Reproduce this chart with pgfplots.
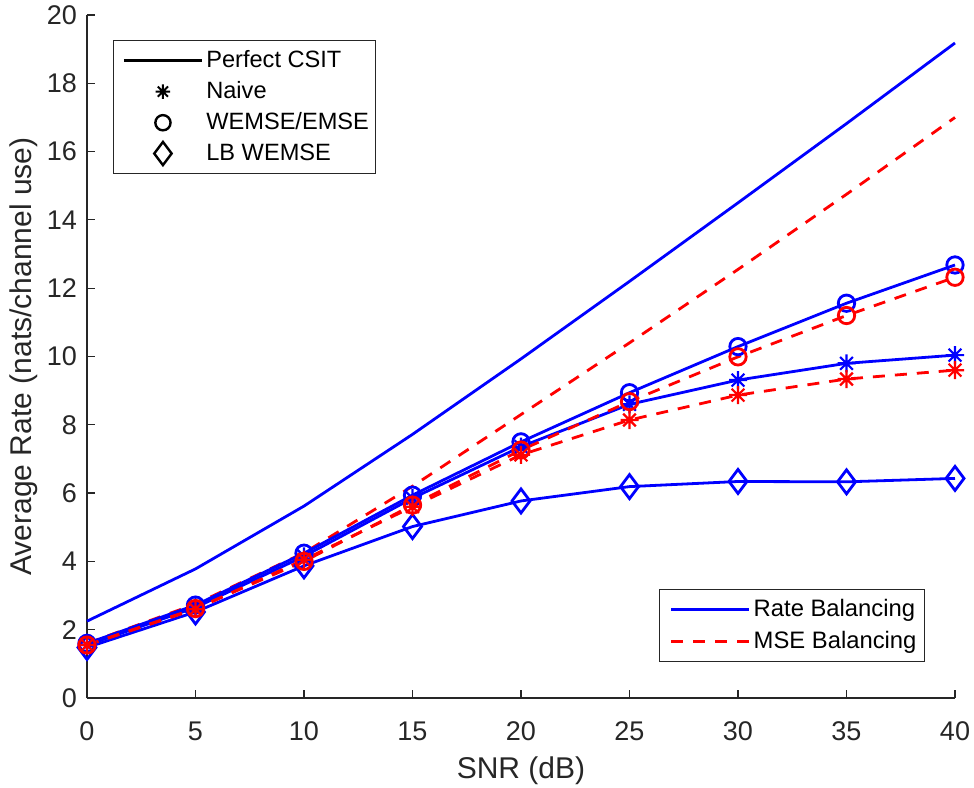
\documentclass[border=0pt]{standalone}
\usepackage{fontspec}
\setmainfont{Liberation Sans}
\usepackage{pgfplots}
\pgfplotsset{compat=1.18}
\definecolor{axgray}{RGB}{38,38,38}
\pgfdeclareplotmark{mstar}{%
  \pgfpathmoveto{\pgfqpoint{0pt}{\pgfplotmarksize}}\pgfpathlineto{\pgfqpoint{0pt}{-\pgfplotmarksize}}%
  \pgfpathmoveto{\pgfqpoint{\pgfplotmarksize}{0pt}}\pgfpathlineto{\pgfqpoint{-\pgfplotmarksize}{0pt}}%
  \pgfpathmoveto{\pgfqpoint{.7071\pgfplotmarksize}{.7071\pgfplotmarksize}}\pgfpathlineto{\pgfqpoint{-.7071\pgfplotmarksize}{-.7071\pgfplotmarksize}}%
  \pgfpathmoveto{\pgfqpoint{-.7071\pgfplotmarksize}{.7071\pgfplotmarksize}}\pgfpathlineto{\pgfqpoint{.7071\pgfplotmarksize}{-.7071\pgfplotmarksize}}%
  \pgfusepathqstroke
}
\begin{document}
\begin{tikzpicture}
\begin{axis}[
  name=ax,
  scale only axis,
  width=434pt, height=341.5pt,
  xmin=0, xmax=40, ymin=0, ymax=20,
  xtick={0,5,...,40}, ytick={0,2,...,20},
  axis lines=left,
  axis line style={-, draw=axgray, line width=0.6pt},
  tick align=inside, major tick length=4pt,
  tick style={draw=axgray, line width=0.6pt},
  ticklabel style={font=\fontsize{13.5}{16}\selectfont, text=axgray},
  xticklabel style={yshift=-8.5pt},
  yticklabel style={xshift=-1.5pt},
  /pgf/number format/assume math mode=true,
  xlabel={SNR (dB)}, ylabel={Average Rate (nats/channel use)},
  label style={font=\fontsize{15}{18}\selectfont, text=axgray},
  xlabel style={at={(axis description cs:0.5,-0.107)}, anchor=center},
  ylabel style={at={(axis description cs:-0.073,0.5)}, anchor=center},
  clip=false,
  legend cell align=left,
  legend style={at={(0.9654,0.0527)}, anchor=south east, draw=axgray, line width=0.5pt,
    font=\fontsize{11.9}{14.4}\selectfont, inner xsep=2.5pt, inner ysep=3pt,
    row sep=2pt, nodes={inner xsep=1.5pt, inner ysep=2pt}},
  legend image code/.code={\path (-2.5pt,0pt); \draw[mark repeat=2,mark phase=2,#1] plot coordinates {(0pt,0pt) (19.5pt,0pt) (39pt,0pt)};},
]
% Perfect CSIT
\addplot[blue, line width=1.4pt, forget plot] coordinates {(0,2.25)(5,3.78)(10,5.62)(15,7.72)(20,9.93)(25,12.2)(30,14.5)(35,16.82)(40,19.18)};
\addplot[red, line width=1.4pt, dash pattern=on 6pt off 5pt, forget plot] coordinates {(0,1.6)(5,2.75)(10,4.25)(15,6.2)(20,8.3)(25,10.4)(30,12.55)(35,14.75)(40,17.0)};
% LB WEMSE
\addplot[blue, line width=1.4pt, mark=diamond, mark size=6pt, mark options={solid}, forget plot] coordinates {(0,1.48)(5,2.52)(10,3.87)(15,5.02)(20,5.77)(25,6.19)(30,6.34)(35,6.33)(40,6.43)};
% Naive
\addplot[blue, line width=1.4pt, mark=mstar, mark size=4.5pt, mark options={solid, line width=1.1pt}, forget plot] coordinates {(0,1.55)(5,2.65)(10,4.15)(15,5.85)(20,7.36)(25,8.6)(30,9.31)(35,9.8)(40,10.04)};
% WEMSE
\addplot[blue, line width=1.4pt, mark=o, mark size=4.1pt, mark options={solid}, forget plot] coordinates {(0,1.6)(5,2.72)(10,4.24)(15,5.94)(20,7.5)(25,8.94)(30,10.29)(35,11.56)(40,12.68)};
\addplot[red, line width=1.4pt, dash pattern=on 6pt off 5pt, mark=mstar, mark size=4.5pt, mark options={solid, line width=1.1pt}, forget plot] coordinates {(0,1.55)(5,2.6)(10,4.05)(15,5.6)(20,7.12)(25,8.14)(30,8.87)(35,9.34)(40,9.6)};
\addplot[red, line width=1.4pt, dash pattern=on 6pt off 5pt, mark=o, mark size=4.1pt, mark options={solid}, forget plot] coordinates {(0,1.55)(5,2.62)(10,4.0)(15,5.65)(20,7.26)(25,8.68)(30,9.99)(35,11.2)(40,12.32)};
\addlegendimage{blue, line width=1.4pt}
\addlegendentry{Rate Balancing}
\addlegendimage{red, line width=1.4pt, dash pattern=on 6pt off 5pt}
\addlegendentry{MSE Balancing}
\end{axis}
\begin{axis}[
  scale only axis,
  width=434pt, height=341.5pt,
  xmin=0, xmax=40, ymin=0, ymax=20,
  hide axis,
  legend cell align=left,
  legend style={at={(0.03,0.9634)}, anchor=north west, draw=axgray, line width=0.5pt,
    font=\fontsize{11.8}{14.4}\selectfont, inner xsep=2pt, inner ysep=3pt,
    row sep=1.5pt, nodes={inner xsep=1.5pt, inner ysep=2pt}},
  legend image code/.code={\path (-2.5pt,0pt); \draw[mark repeat=2,mark phase=2,#1] plot coordinates {(0pt,0pt) (19.5pt,0pt) (39pt,0pt)};},
]
\addlegendimage{black, line width=1.4pt}
\addlegendentry{Perfect CSIT}
\addlegendimage{black, only marks, mark=mstar, mark size=3.6pt, line width=1pt}
\addlegendentry{Naive}
\addlegendimage{black, only marks, mark=o, mark size=3.8pt, line width=1.2pt}
\addlegendentry{WEMSE/EMSE}
\addlegendimage{black, only marks, mark=diamond, mark size=5.8pt, line width=1.2pt}
\addlegendentry{LB WEMSE}
\end{axis}
\pgfresetboundingbox
\path ([xshift=-43.5pt,yshift=-44.5pt]ax.south west) rectangle ([xshift=9.5pt,yshift=7.5pt]ax.north east);
\end{tikzpicture}
\end{document}
